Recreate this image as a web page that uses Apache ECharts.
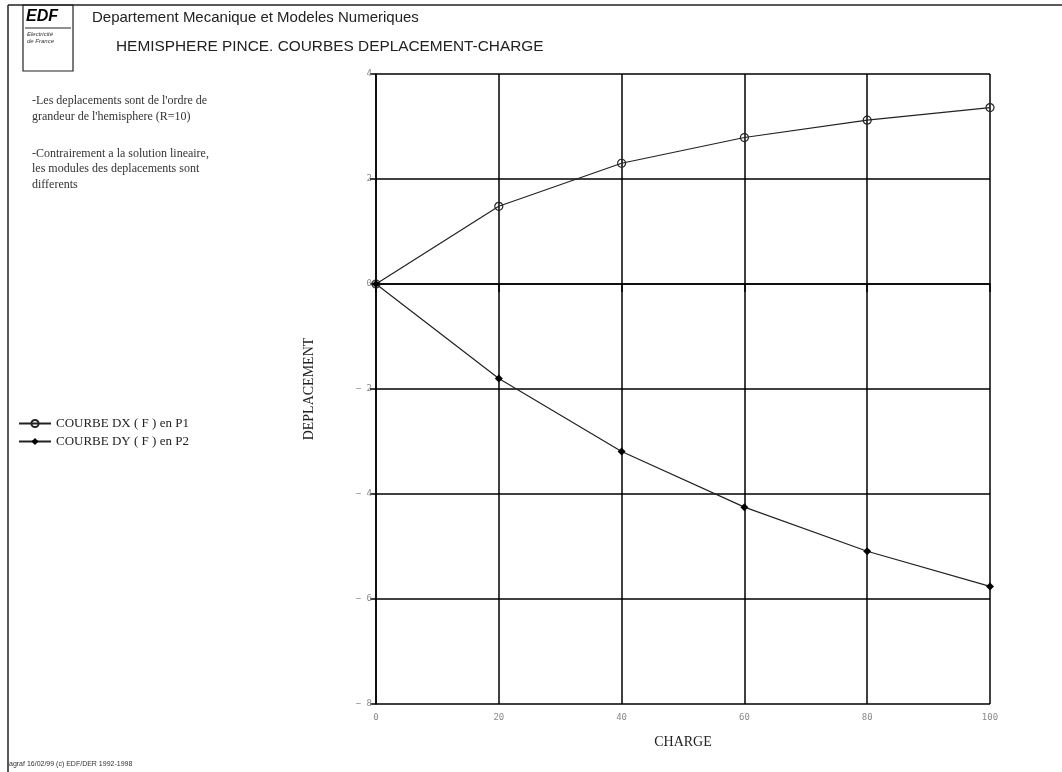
<!DOCTYPE html>
<html><head><meta charset="utf-8">
<script src="https://cdn.jsdelivr.net/npm/echarts@6/dist/echarts.min.js"></script>
<style>html,body{margin:0;padding:0;background:#fff}#c{width:1062px;height:772px}</style>
</head><body><div id="c"></div>
<script>
const charge = [0, 20, 40, 60, 80, 100];
const dxValues = [0, 1.48, 2.30, 2.79, 3.12, 3.36];
const dyValues = [0, -1.80, -3.19, -4.25, -5.09, -5.76];
const seriesNames = ['COURBE DX ( F ) en P1', 'COURBE DY ( F ) en P2'];
const titleLine1 = 'Departement Mecanique et Modeles Numeriques';
const titleLine2 = 'HEMISPHERE PINCE. COURBES DEPLACEMENT-CHARGE';
const notes = ["-Les deplacements sont de l'ordre de", "grandeur de l'hemisphere (R=10)", "", "-Contrairement a la solution lineaire,", "les modules des deplacements sont", "differents"];
const footer = 'agraf 16/02/99 (c) EDF/DER 1992-1998';

const chart = echarts.init(document.getElementById('c'), null, {renderer: 'canvas'});
const tickFont = {fontFamily: 'DejaVu Sans Mono', fontSize: 9, color: '#8a8a8a'};
const serif = 'Liberation Serif';

const noteEls = [];
const noteY = [102, 118, 0, 155, 170, 186];
notes.forEach((t, i) => {
  if (!t) return;
  noteEls.push({type: 'text', left: 32, top: noteY[i] - 7, style: {text: t, font: '12px "Liberation Serif"', fill: '#333'}});
});

chart.setOption({
  animation: false,
  backgroundColor: '#fff',
  grid: {left: 376, right: 72, top: 74, bottom: 68, containLabel: false},
  legend: {
    orient: 'vertical', left: 13, top: 412, itemWidth: 32, itemHeight: 9, itemGap: 5,
    textStyle: {fontFamily: serif, fontSize: 13, color: '#222'},
    data: seriesNames
  },
  xAxis: {
    type: 'value', min: 0, max: 100, interval: 20,
    name: 'CHARGE', nameLocation: 'middle', nameGap: 31,
    nameTextStyle: {fontFamily: serif, fontSize: 14, color: '#222'},
    axisLine: {show: true, lineStyle: {color: '#000', width: 1.5}},
    axisTick: {show: true, length: 8, lineStyle: {color: '#000', width: 1.5}},
    axisLabel: Object.assign({margin: 9}, tickFont),
    splitLine: {show: true, lineStyle: {color: '#000', width: 1.5}}
  },
  yAxis: {
    type: 'value', min: -8, max: 4, interval: 2,
    name: 'DEPLACEMENT', nameLocation: 'middle', nameGap: 60, nameRotate: 90,
    nameTextStyle: {fontFamily: serif, fontSize: 14, color: '#222'},
    axisLine: {show: true, lineStyle: {color: '#000', width: 1.5}},
    axisTick: {show: true, length: 6, lineStyle: {color: '#000', width: 1.5}},
    axisLabel: Object.assign({margin: 4, formatter: v => v < 0 ? '\u2212 ' + Math.abs(v) : String(v)}, tickFont),
    splitLine: {show: true, lineStyle: {color: '#000', width: 1.5}}
  },
  series: [
    {
      name: seriesNames[0], type: 'line',
      data: charge.map((c, i) => [c, dxValues[i]]),
      symbol: 'circle', symbolSize: 8,
      lineStyle: {color: '#222', width: 1.2},
      itemStyle: {color: 'rgba(0,0,0,0)', borderColor: '#222', borderWidth: 1.2}
    },
    {
      name: seriesNames[1], type: 'line',
      data: charge.map((c, i) => [c, dyValues[i]]),
      symbol: 'diamond', symbolSize: 8,
      lineStyle: {color: '#222', width: 1.2},
      itemStyle: {color: '#000'}
    }
  ],
  graphic: [
    {type: 'line', shape: {x1: 8, y1: 5, x2: 1062, y2: 5}, style: {stroke: '#222', lineWidth: 1.5}},
    {type: 'line', shape: {x1: 8, y1: 5, x2: 8, y2: 772}, style: {stroke: '#222', lineWidth: 1.5}},
    {type: 'rect', shape: {x: 23, y: 5, width: 50, height: 66}, style: {fill: 'none', stroke: '#222', lineWidth: 1.2}},
    {type: 'text', left: 26, top: 9, style: {text: 'EDF', font: 'italic bold 16px "Liberation Sans"', fill: '#000'}},
    {type: 'line', shape: {x1: 25, y1: 28, x2: 71, y2: 28}, style: {stroke: '#222', lineWidth: 1}},
    {type: 'text', left: 27, top: 31, style: {text: 'Electricité', font: 'italic 6px "Liberation Sans"', fill: '#333'}},
    {type: 'text', left: 27, top: 38, style: {text: 'de France', font: 'italic 6px "Liberation Sans"', fill: '#333'}},
    {type: 'text', left: 92, top: 10, style: {text: titleLine1, font: '15px "Liberation Sans"', fill: '#222'}},
    {type: 'text', left: 116, top: 39, style: {text: titleLine2, font: '15.4px "Liberation Sans"', fill: '#222'}},
    {type: 'text', left: 9, top: 761, style: {text: footer, font: '7px "Liberation Sans"', fill: '#333'}}
  ].concat(noteEls)
});
</script></body></html>
